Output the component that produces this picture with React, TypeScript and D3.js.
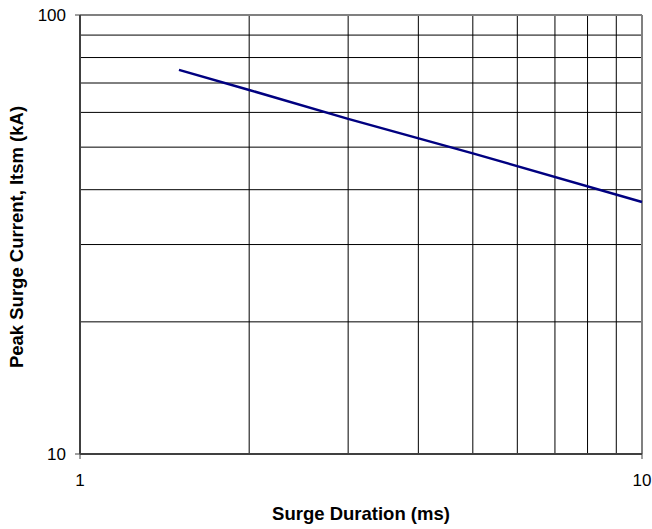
import React from 'react';
import * as d3 from 'd3';

// Surge duration (ms) vs peak surge current (kA)
const durationMs = [1.5, 2, 3, 5, 10];
const surgeKA = [75, 67.5, 58, 48.4, 37.5];

const xTickLabels = [1, 10];
const yTickLabels = [10, 100];
const xGrid = [2, 3, 4, 5, 6, 7, 8, 9];
const yGrid = [20, 30, 40, 50, 60, 70, 80, 90];

const W = 652;
const H = 529;
const margin = { top: 15, right: 10, bottom: 75, left: 80 };

const App: React.FC = () => {
  const x = d3.scaleLog().domain([1, 10]).range([margin.left, W - margin.right]);
  const y = d3.scaleLog().domain([10, 100]).range([H - margin.bottom, margin.top]);

  const line = d3.line<number>()
    .x((_, i) => x(durationMs[i]))
    .y(d => y(d));

  const font = 'Arial, "Liberation Sans", Helvetica, sans-serif';
  const x0 = x(1), x1 = x(10), y0 = y(10), y1 = y(100);

  return (
    <svg width={W} height={H} style={{ position: 'absolute', left: 0, top: 0, background: '#fff' }}>
      {/* grid */}
      {xGrid.map(v => (
        <line key={'gx' + v} x1={x(v)} x2={x(v)} y1={y1} y2={y0} stroke="#000" strokeWidth={1} />
      ))}
      {yGrid.map(v => (
        <line key={'gy' + v} x1={x0} x2={x1} y1={y(v)} y2={y(v)} stroke="#000" strokeWidth={1} />
      ))}

      {/* frame */}
      <line x1={x0} x2={x1} y1={y1} y2={y1} stroke="#808080" strokeWidth={2} />
      <line x1={x1} x2={x1} y1={y1} y2={y0} stroke="#808080" strokeWidth={2} />
      <line x1={x0} x2={x0} y1={y1} y2={y0} stroke="#404040" strokeWidth={2} />
      <line x1={x0} x2={x1} y1={y0} y2={y0} stroke="#404040" strokeWidth={2} />

      {/* y ticks */}
      {yTickLabels.map(v => (
        <g key={'yt' + v}>
          <line x1={x0 - 5} x2={x0} y1={y(v)} y2={y(v)} stroke="#404040" strokeWidth={1} />
          <text x={x0 - 14} y={y(v)} dy="0.36em" textAnchor="end" fontFamily={font} fontSize={17}>{v}</text>
        </g>
      ))}

      {/* x ticks */}
      {xTickLabels.map(v => (
        <g key={'xt' + v}>
          <line x1={x(v)} x2={x(v)} y1={y0} y2={y0 + 5} stroke="#404040" strokeWidth={1} />
          <text x={x(v)} y={y0 + 32} textAnchor="middle" fontFamily={font} fontSize={17}>{v}</text>
        </g>
      ))}

      {/* series */}
      <path d={line(surgeKA) || ''} fill="none" stroke="#000080" strokeWidth={2.5} />

      {/* axis titles */}
      <text x={(x0 + x1) / 2} y={520} textAnchor="middle" fontFamily={font} fontSize={18.5} fontWeight="bold">
        Surge Duration (ms)
      </text>
      <text
        transform={`translate(22.5,237) rotate(-90)`}
        textAnchor="middle"
        fontFamily={font}
        fontSize={18.5}
        fontWeight="bold"
      >
        Peak Surge Current, Itsm (kA)
      </text>
    </svg>
  );
};

export default App;
